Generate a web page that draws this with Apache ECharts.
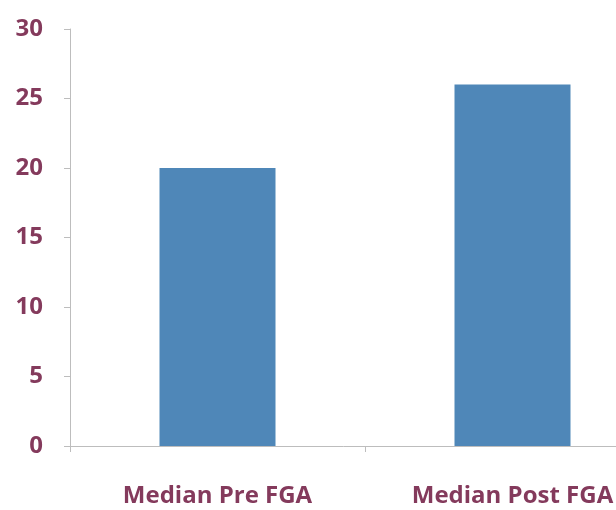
<!DOCTYPE html>
<html><head><meta charset="utf-8">
<script src="https://cdn.jsdelivr.net/npm/echarts@6/dist/echarts.min.js"></script>
<style>html,body{margin:0;padding:0;background:#fff}#c{width:616px;height:510px}</style>
</head><body><div id="c"></div>
<script>
const categories = ["Median Pre FGA", "Median Post FGA"];
const values = [20, 26];
const yTicks = [0, 5, 10, 15, 20, 25, 30];

const labelColor = '#843a5c';
const chart = echarts.init(document.getElementById('c'), null, {renderer: 'canvas'});
chart.setOption({
  animation: false,
  grid: {left: 70, width: 590, top: 29, height: 417, containLabel: false, outerBoundsMode: 'none'},
  xAxis: {
    type: 'category', data: categories,
    axisLine: {lineStyle: {color: '#bdbdbd', width: 1}},
    axisTick: {show: true, length: 6, lineStyle: {color: '#bdbdbd'}},
    axisLabel: {color: labelColor, fontFamily: 'Open Sans', fontWeight: 'bold', fontSize: 24, margin: 38, interval: 0}
  },
  yAxis: {
    type: 'value', min: yTicks[0], max: yTicks[yTicks.length-1], interval: 5,
    axisLine: {show: true, lineStyle: {color: '#bdbdbd', width: 1}},
    axisTick: {show: true, length: 6, lineStyle: {color: '#bdbdbd'}},
    splitLine: {show: false},
    axisLabel: {color: labelColor, fontFamily: 'Open Sans', fontWeight: 'bold', fontSize: 24, margin: 27}
  },
  series: [{
    type: 'bar', data: values, barWidth: 116,
    itemStyle: {color: '#4f87b8'}
  }]
});
</script></body></html>
